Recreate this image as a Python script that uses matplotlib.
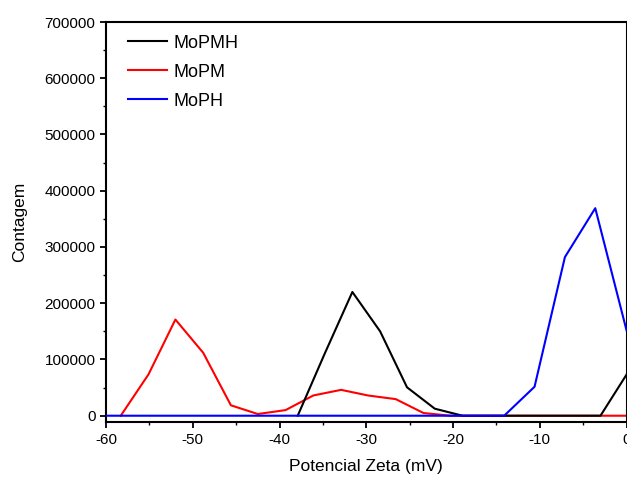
import matplotlib
matplotlib.use('Agg')
import matplotlib.pyplot as plt
from matplotlib.ticker import MultipleLocator

plt.rcParams['font.family'] = ['Liberation Sans', 'DejaVu Sans']
plt.rcParams['axes.unicode_minus'] = False  # plain hyphen like the original

# zeta potential (mV) and counts
x_mopmh = [-37.9, -34.8, -31.6, -28.4, -25.3, -22.1, -18.9, -15.8, -12.6, -9.4, -6.2, -3.0, 0.0]
y_mopmh = [0, 110000, 220000, 150000, 50500, 12500, 0, 0, 0, 0, 0, 0, 73000]

x_mopm = [-58.3, -55.1, -52.0, -48.8, -45.6, -42.5, -39.3, -36.1, -32.9, -29.8,
          -26.6, -23.4, -20.3, -17.1, -13.9, -10.8, -7.6, -4.4, -1.2, 0.0]
y_mopm = [0, 73500, 171000, 112000, 18500, 3000, 10000, 36000, 46000, 36000,
          29500, 4800, 0, 0, 0, 0, 0, 0, 0, 0]

x_moph = [-63.0, -14.1, -10.6, -7.1, -3.6, 0.0]
y_moph = [0, 0, 51500, 282000, 369000, 152000]

fig = plt.figure(figsize=(6.27, 4.78), dpi=100)
ax = fig.add_axes([106 / 627, 1 - 422.3 / 478, 520.5 / 627, 400.3 / 478])

# draw order: red under black under blue
l_pm, = ax.plot(x_mopm, y_mopm, color='red', lw=1.5, zorder=2)
l_pmh, = ax.plot(x_mopmh, y_mopmh, color='black', lw=1.5, zorder=3)
l_ph, = ax.plot(x_moph, y_moph, color='blue', lw=1.5, zorder=4)

ax.set_xlim(-60, 0)
ax.set_ylim(-11700, 700000)
ax.xaxis.set_major_locator(MultipleLocator(10))
ax.xaxis.set_minor_locator(MultipleLocator(5))
ax.yaxis.set_major_locator(MultipleLocator(100000))
ax.yaxis.set_minor_locator(MultipleLocator(50000))
ax.tick_params(which='major', direction='out', length=4.5, width=1.3, labelsize=11, pad=3)
ax.tick_params(which='minor', direction='out', length=2.5, width=1.0)
for s in ax.spines.values():
    s.set_linewidth(1.5)

ax.set_xlabel('Potencial Zeta (mV)', fontsize=12.5, labelpad=9)
ax.set_ylabel('Contagem', fontsize=12.5, labelpad=12.5)

ax.legend([l_pmh, l_pm, l_ph], ['MoPMH', 'MoPM', 'MoPH'], loc='upper left',
          bbox_to_anchor=(0.042, 0.968), frameon=False, borderaxespad=0, borderpad=0,
          fontsize=13, handlelength=2.15, handletextpad=0.4, labelspacing=0.66)

plt.savefig('out.png', dpi=100)
